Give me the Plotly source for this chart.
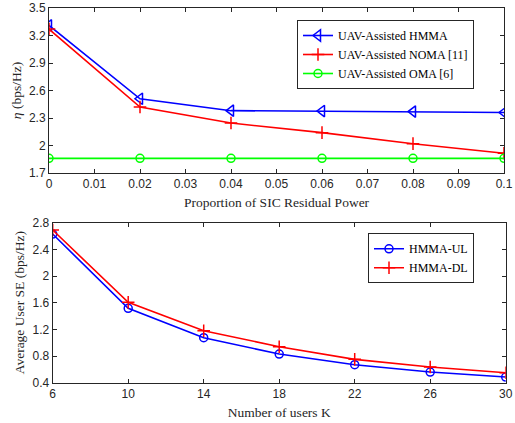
import plotly.graph_objects as go

# Top chart data
sic_x = [0, 0.02, 0.04, 0.06, 0.08, 0.1]
hmma = [3.31, 2.51, 2.38, 2.376, 2.37, 2.36]
noma = [3.27, 2.42, 2.245, 2.14, 2.02, 1.915]
oma = [1.86, 1.86, 1.86, 1.86, 1.86, 1.86]

# Bottom chart data
users_k = [6, 10, 14, 18, 22, 26, 30]
hmma_ul = [2.63, 1.515, 1.075, 0.83, 0.67, 0.56, 0.485]
hmma_dl = [2.69, 1.605, 1.18, 0.94, 0.75, 0.635, 0.55]

W, H = 515, 423
serif = "Liberation Serif, Times New Roman, serif"
sans = "Liberation Sans, Arial, sans-serif"
LW = 1.6

fig = go.Figure()
fig.add_trace(go.Scatter(x=sic_x, y=hmma, name="UAV-Assisted HMMA", mode="lines+markers",
                         line=dict(color="#0000ff", width=LW),
                         marker=dict(symbol="triangle-left-open", size=10, line=dict(width=1.5, color="#0000ff")),
                         xaxis="x", yaxis="y", legend="legend"))
fig.add_trace(go.Scatter(x=sic_x, y=noma, name="UAV-Assisted NOMA [11]", mode="lines+markers",
                         line=dict(color="#ff0000", width=LW),
                         marker=dict(symbol="cross-thin", size=9, line=dict(width=1.5, color="#ff0000")),
                         xaxis="x", yaxis="y", legend="legend"))
fig.add_trace(go.Scatter(x=sic_x, y=oma, name="UAV-Assisted OMA [6]", mode="lines+markers",
                         line=dict(color="#00ff00", width=LW),
                         marker=dict(symbol="circle-open", size=8, line=dict(width=1.5, color="#00ff00")),
                         xaxis="x", yaxis="y", legend="legend"))
fig.add_trace(go.Scatter(x=users_k, y=hmma_ul, name="HMMA-UL", mode="lines+markers",
                         line=dict(color="#0000ff", width=LW),
                         marker=dict(symbol="circle-open", size=8, line=dict(width=1.5, color="#0000ff")),
                         xaxis="x2", yaxis="y2", legend="legend2"))
fig.add_trace(go.Scatter(x=users_k, y=hmma_dl, name="HMMA-DL", mode="lines+markers",
                         line=dict(color="#ff0000", width=LW),
                         marker=dict(symbol="cross-thin", size=9, line=dict(width=1.5, color="#ff0000")),
                         xaxis="x2", yaxis="y2", legend="legend2"))

axis_common = dict(showline=True, mirror="allticks", linecolor="#262626", linewidth=1,
                   ticks="inside", ticklen=4, tickcolor="#262626", showgrid=False, zeroline=False,
                   tickfont=dict(family=sans, size=12, color="#262626"), automargin=False)
title_font = dict(family=serif, size=13.5, color="#262626")

fig.update_layout(
    width=W, height=H, margin=dict(l=0, r=0, t=0, b=0),
    paper_bgcolor="white", plot_bgcolor="white", showlegend=True,
    xaxis=dict(domain=[49 / W, 504 / W], range=[0, 0.1], tickvals=[0, 0.01, 0.02, 0.03, 0.04, 0.05, 0.06, 0.07, 0.08, 0.09, 0.1],
               ticktext=["0", "0.01", "0.02", "0.03", "0.04", "0.05", "0.06", "0.07", "0.08", "0.09", "0.1"],
               anchor="y", title=dict(text="Proportion of SIC Residual Power", font=title_font, standoff=7),
               **axis_common),
    yaxis=dict(domain=[1 - 173 / H, 1 - 8 / H], range=[1.7, 3.5], tickvals=[1.7, 2, 2.3, 2.6, 2.9, 3.2, 3.5],
               ticktext=["1.7", "2", "2.3", "2.6", "2.9", "3.2", "3.5"], anchor="x",
               title=dict(text="<i>η</i> (bps/Hz)", font=title_font, standoff=4),
               **axis_common),
    xaxis2=dict(domain=[52.7 / W, 505.7 / W], range=[6, 30], tickvals=users_k, anchor="y2",
                title=dict(text="Number of users K", font=title_font, standoff=7),
                **axis_common),
    yaxis2=dict(domain=[1 - 382.7 / H, 1 - 222.7 / H], range=[0.4, 2.8], tickvals=[0.4, 0.8, 1.2, 1.6, 2, 2.4, 2.8],
                ticktext=["0.4", "0.8", "1.2", "1.6", "2", "2.4", "2.8"], anchor="x2",
                title=dict(text="Average User SE (bps/Hz)", font=title_font, standoff=4),
                **axis_common),
    legend=dict(x=474 / W, y=1 - 20 / H, xanchor="right", yanchor="top", bgcolor="white",
                bordercolor="#262626", borderwidth=1, font=dict(family=serif, size=12, color="black"),
                tracegroupgap=0, itemwidth=30),
    legend2=dict(x=474 / W, y=1 - 233.3 / H, xanchor="right", yanchor="top", bgcolor="white",
                 bordercolor="#262626", borderwidth=1, font=dict(family=serif, size=12, color="black"),
                 tracegroupgap=0, itemwidth=30),
)

fig.write_html("out.html")
